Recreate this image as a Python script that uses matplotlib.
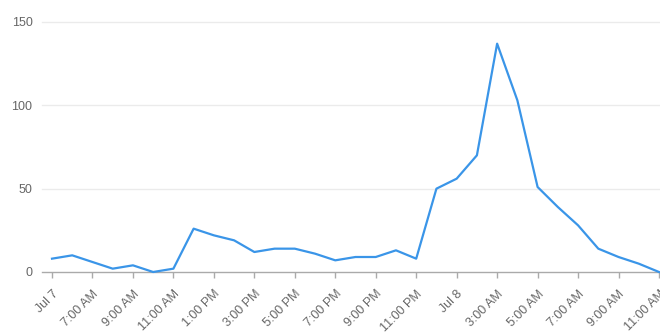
import matplotlib
matplotlib.use("Agg")
import matplotlib.pyplot as plt

plt.rcParams['font.family'] = ['Liberation Sans', 'DejaVu Sans']

# hourly values, starting at the "Jul 7" tick
values = [8, 10, 6, 2, 4, 0, 2, 26, 22, 19, 12, 14, 14, 11, 7, 9, 9, 13, 8,
          50, 56, 70, 137, 103, 51, 39, 28, 14, 9, 5, 0]
tick_labels = ["Jul 7", "7:00 AM", "9:00 AM", "11:00 AM", "1:00 PM", "3:00 PM",
               "5:00 PM", "7:00 PM", "9:00 PM", "11:00 PM", "Jul 8", "3:00 AM",
               "5:00 AM", "7:00 AM", "9:00 AM", "11:00 AM"]
y_ticks = [0, 50, 100, 150]

fig = plt.figure(figsize=(6.6, 3.35), dpi=100)
left_px, right_px, top_px, bot_px = 52, 659, 22, 272
ax = fig.add_axes([left_px/660, (335-bot_px)/335, (right_px-left_px)/660,
                   (bot_px-top_px)/335])

x = list(range(len(values)))
ax.plot(x, values, color='#3a95e8', lw=1.6, clip_on=False, zorder=3,
        solid_joinstyle='round')

ax.set_xlim(0, len(values) - 1)
ax.set_ylim(0, 150)
ax.set_yticks(y_ticks)
ax.set_yticklabels([str(v) for v in y_ticks])
ax.set_xticks(list(range(0, len(values), 2)))
ax.set_xticklabels(tick_labels, rotation=45, ha='right', va='top',
                   rotation_mode='anchor')

# gridlines / baseline extending a little left of the plot area
ext = -10 / (right_px - left_px)
for v in y_ticks:
    if v == 0:
        ax.axhline(v, xmin=ext, xmax=1, color='#aaaaaa', lw=1, clip_on=False,
                   zorder=2)
    else:
        ax.axhline(v, xmin=ext, xmax=1, color='#ebebeb', lw=1, clip_on=False,
                   zorder=1)

for s in ['top', 'right', 'left', 'bottom']:
    ax.spines[s].set_visible(False)

ax.tick_params(axis='y', length=0, pad=14, labelsize=9, labelcolor='#666666')
ax.tick_params(axis='x', length=4, width=1, color='#aaaaaa', pad=7.5,
               labelsize=9, labelcolor='#666666')

fig.savefig('out.png', dpi=100)
